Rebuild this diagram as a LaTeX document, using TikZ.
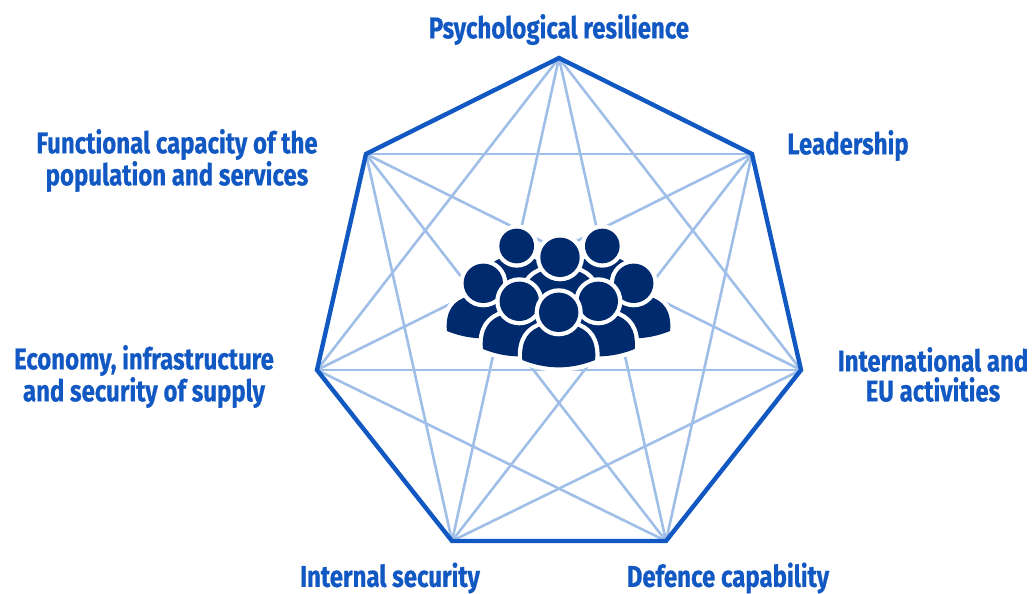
\documentclass[tikz,border=0pt]{standalone}
\usepackage{fontspec}
\setmainfont[FakeStretch=0.8, BoldFeatures={FakeStretch=0.8, FakeBold=0.5}]{Fira Sans}
\usepackage{tikz}
\usetikzlibrary{positioning}
\definecolor{edgeblue}{RGB}{18, 88, 194}
\definecolor{lineblue}{RGB}{159, 190, 232}
\definecolor{iconblue}{RGB}{0, 42, 110}
\tikzset{
    textnode/.style = {draw=none, fill=none, rectangle, inner sep = 0em, node distance=0em,
      font=\fontsize{30}{30}\selectfont\bfseries, text=edgeblue, align=center},
    vertexnode/.style = {draw=none, fill=none, circle, minimum size=0em, inner sep = 0em},
    outerline/.style = {edgeblue, line width=4.4pt, line join=miter},
    innerline/.style = {lineblue, line width=2.6pt},
    halo/.style = {white, fill=white, line width=8.6pt, line join=round},
    solid shape/.style = {fill=iconblue, draw=none}
}
\newcommand{\personicon}[3]{%
  \begin{scope}[shift={(#1,#2)}, scale=#3]
    \draw [halo] (-36.4,47.7) .. controls (-38,28) and (-30,17) .. (-15,13) -- (15,13)
      .. controls (30,17) and (38,28) .. (36.4,47.7) .. controls (12,57.5) and (-12,57.5) .. cycle;
    \fill [solid shape] (-36.4,47.7) .. controls (-38,28) and (-30,17) .. (-15,13) -- (15,13)
      .. controls (30,17) and (38,28) .. (36.4,47.7) .. controls (12,57.5) and (-12,57.5) .. cycle;
    \draw [halo] (0,0) circle [radius=19.7];
    \fill [solid shape] (0,0) circle [radius=19.7];
  \end{scope}}

\begin{document}
\begin{tikzpicture}[x=1pt, y=-1pt]
\useasboundingbox (0,0) rectangle (1034,594);

\node [vertexnode, name=v0] at (559,58) {};
\node [vertexnode, name=v1] at (752,154) {};
\node [vertexnode, name=v2] at (801,370) {};
\node [vertexnode, name=v3] at (666,541) {};
\node [vertexnode, name=v4] at (452,541) {};
\node [vertexnode, name=v5] at (317,370) {};
\node [vertexnode, name=v6] at (366,154) {};

% diagonals
\draw [innerline] (v0) -- (v2);
\draw [innerline] (v0) -- (v3);
\draw [innerline] (v0) -- (v4);
\draw [innerline] (v0) -- (v5);
\draw [innerline] (v1) -- (v3);
\draw [innerline] (v1) -- (v4);
\draw [innerline] (v1) -- (v5);
\draw [innerline] (v1) -- (v6);
\draw [innerline] (v2) -- (v4);
\draw [innerline] (v2) -- (v5);
\draw [innerline] (v2) -- (v6);
\draw [innerline] (v3) -- (v5);
\draw [innerline] (v3) -- (v6);
\draw [innerline] (v4) -- (v6);

% outline
\draw [outerline] (v0.center) -- (v1.center) -- (v2.center) -- (v3.center)
  -- (v4.center) -- (v5.center) -- (v6.center) -- cycle;

% people, back row first
\personicon{516.7}{246}{0.88}
\personicon{602.3}{246}{0.88}
\personicon{560}{257.3}{1}
\personicon{483.3}{283.3}{1}
\personicon{633.7}{283.3}{1}
\personicon{519.3}{301.3}{1}
\personicon{598.3}{301.3}{1}
\personicon{558.7}{312.3}{1}

\node [textnode, name=l0, above of = v0, yshift=28.5pt] {Psychological resilience};
\node [textnode, name=l1, right of = v1, xshift=96pt, yshift=8.5pt] {Leadership};
\node [textnode, name=l2, right of = v2, xshift=132pt, yshift=-4.5pt] {International and\\EU activities};
\node [textnode, name=l3, below of = v3, xshift=62pt, yshift=-37pt] {Defence capability};
\node [textnode, name=l4, below of = v4, xshift=-62pt, yshift=-37pt] {Internal security};
\node [textnode, name=l5, left of = v5, xshift=-173pt, yshift=-6.5pt] {Economy, infrastructure\\and security of supply};
\node [textnode, name=l6, left of = v6, xshift=-189pt, yshift=-6.5pt] {Functional capacity of the\\population and services};
\end{tikzpicture}
\end{document}
